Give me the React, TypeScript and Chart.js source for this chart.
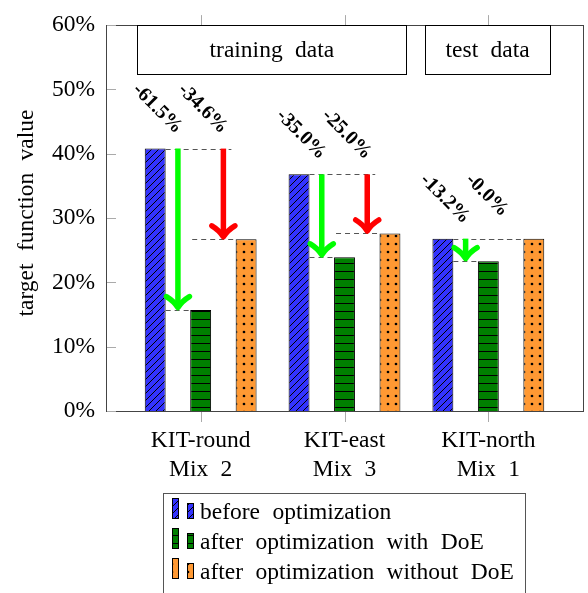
import React, { useEffect, useRef } from 'react';
import { Chart, registerables } from 'chart.js';

Chart.register(...registerables);

const FONT = "'Liberation Serif', 'Times New Roman', serif";

// ---- data ----
const categories = [
  ['KIT-round', 'Mix 2'],
  ['KIT-east', 'Mix 3'],
  ['KIT-north', 'Mix 1'],
];
const seriesNames = [
  'before optimization',
  'after optimization with DoE',
  'after optimization without DoE',
];
const beforeOpt = [40.8, 36.8, 26.8];
const afterDoE = [15.7, 23.9, 23.3];
const afterNoDoE = [26.7, 27.6, 26.8];
const doeChangeLabels = ['-61.5%', '-35.0%', '-13.2%'];
const noDoeChangeLabels = ['-34.6%', '-25.0%', '-0.0%'];
const yTickValues = [0, 10, 20, 30, 40, 50, 60];
const yAxisTitle = 'target function value';
const groupBoxes = [
  { text: 'training data', from: 0, to: 1 },
  { text: 'test data', from: 2, to: 2 },
];

function makePattern(kind: string, color: string): CanvasPattern | string {
  const c = document.createElement('canvas');
  const size = kind === 'hatch' ? 7 : 8;
  c.width = size;
  c.height = size;
  const g = c.getContext('2d');
  if (!g) return color;
  g.fillStyle = color;
  g.fillRect(0, 0, size, size);
  g.strokeStyle = '#000';
  g.fillStyle = '#000';
  if (kind === 'hatch') {
    g.lineWidth = 1;
    g.beginPath();
    g.moveTo(-1, size + 1);
    g.lineTo(size + 1, -1);
    g.moveTo(-2, 2);
    g.lineTo(2, -2);
    g.moveTo(size - 2, size + 2);
    g.lineTo(size + 2, size - 2);
    g.stroke();
  } else if (kind === 'hlines') {
    g.fillRect(0, size - 1, size, 1.2);
  } else if (kind === 'dots') {
    g.beginPath();
    g.arc(size / 2, size / 2, 1.35, 0, Math.PI * 2);
    g.fill();
  }
  const p = g.createPattern(c, 'repeat');
  return p || color;
}

function drawArrow(ctx: CanvasRenderingContext2D, x: number, y0: number, y1: number, color: string) {
  ctx.save();
  ctx.strokeStyle = color;
  ctx.lineWidth = 5.5;
  ctx.lineCap = 'butt';
  ctx.beginPath();
  ctx.moveTo(x, y0);
  ctx.lineTo(x, y1 - 3);
  ctx.stroke();
  ctx.lineCap = 'round';
  ctx.lineJoin = 'round';
  ctx.beginPath();
  ctx.moveTo(x - 11.5, y1 - 13.5);
  ctx.quadraticCurveTo(x - 4, y1 - 9, x, y1 - 2.5);
  ctx.quadraticCurveTo(x + 4, y1 - 9, x + 11.5, y1 - 13.5);
  ctx.stroke();
  ctx.restore();
}

function dashed(ctx: CanvasRenderingContext2D, x0: number, x1: number, y: number) {
  ctx.save();
  ctx.strokeStyle = '#555';
  ctx.lineWidth = 1;
  ctx.setLineDash([5, 4]);
  ctx.beginPath();
  const yy = Math.round(y) + 0.5;
  ctx.moveTo(x0, yy);
  ctx.lineTo(x1, yy);
  ctx.stroke();
  ctx.restore();
}

export default function App() {
  const ref = useRef<HTMLCanvasElement | null>(null);

  useEffect(() => {
    const canvas = ref.current;
    if (!canvas) return;
    const fills = [
      makePattern('hatch', '#3333ff'),
      makePattern('hlines', '#007f00'),
      makePattern('dots', '#ff9933'),
    ];
    const values = [beforeOpt, afterDoE, afterNoDoE];

    const overlay = {
      id: 'overlay',
      beforeDraw(chart: any) {
        (chart.ctx as any).wordSpacing = '6.5px';
      },
      afterDatasetsDraw(chart: any) {
        const ctx: CanvasRenderingContext2D = chart.ctx;
        const { left, top, right, bottom } = chart.chartArea;
        const xS = chart.scales.x;
        const yS = chart.scales.y;

        // y axis title
        ctx.save();
        ctx.fillStyle = '#000';
        ctx.font = `23.5px ${FONT}`;
        ctx.textAlign = 'center';
        ctx.textBaseline = 'middle';
        ctx.translate(27, (top + bottom) / 2 - 5);
        ctx.rotate(-Math.PI / 2);
        ctx.fillText(yAxisTitle, 0, 0);
        ctx.restore();

        // plot border
        ctx.save();
        ctx.strokeStyle = '#444';
        ctx.lineWidth = 1;
        ctx.strokeRect(Math.round(left) + 0.5, Math.round(top) + 0.5, Math.round(right - left), Math.round(bottom - top));
        // tick marks
        ctx.strokeStyle = '#aaa';
        ctx.beginPath();
        yTickValues.forEach((v) => {
          const y = Math.round(yS.getPixelForValue(v)) + 0.5;
          ctx.moveTo(left + 1, y);
          ctx.lineTo(left + 10, y);
        });
        categories.forEach((_, i) => {
          const x = Math.round(xS.getPixelForValue(i)) + 0.5;
          ctx.moveTo(x, bottom + 1);
          ctx.lineTo(x, bottom + 11);
          ctx.moveTo(x, top);
          ctx.lineTo(x, top - 10);
        });
        ctx.stroke();
        ctx.restore();

        // group boxes
        const unit = xS.getPixelForValue(1) - xS.getPixelForValue(0);
        groupBoxes.forEach((b) => {
          const x0 = xS.getPixelForValue(b.from) - unit * 0.44;
          const x1 = xS.getPixelForValue(b.to) + unit * 0.43;
          const y0 = top;
          const y1 = top + 49;
          ctx.save();
          ctx.fillStyle = '#fff';
          ctx.fillRect(x0, y0, x1 - x0, y1 - y0);
          ctx.strokeStyle = '#000';
          ctx.lineWidth = 1;
          ctx.strokeRect(Math.round(x0) + 0.5, Math.round(y0) + 0.5, Math.round(x1 - x0), Math.round(y1 - y0));
          ctx.fillStyle = '#000';
          ctx.font = `23.5px ${FONT}`;
          ctx.textAlign = 'center';
          ctx.textBaseline = 'middle';
          ctx.fillText(b.text, (x0 + x1) / 2, (y0 + y1) / 2 + 1);
          ctx.restore();
        });

        // dashed guides, arrows and labels
        const mB = chart.getDatasetMeta(0).data;
        const mG = chart.getDatasetMeta(1).data;
        const mO = chart.getDatasetMeta(2).data;
        categories.forEach((_, i) => {
          const b = mB[i], g = mG[i], o = mO[i];
          const bRight = b.x + b.width / 2;
          const gLeft = g.x - g.width / 2;
          const gRight = g.x + g.width / 2;
          const oLeft = o.x - o.width / 2;
          const xGreen = (bRight + gLeft) / 2;
          const xRed = (gRight + oLeft) / 2;
          const yTop = yS.getPixelForValue(beforeOpt[i]);
          const yG = yS.getPixelForValue(afterDoE[i]);
          const yO = yS.getPixelForValue(afterNoDoE[i]);

          dashed(ctx, bRight, xRed + 8, yTop);
          dashed(ctx, gLeft + 2, oLeft, yO);
          dashed(ctx, bRight, gLeft, yG);

          if (yG - yTop > 1) drawArrow(ctx, xGreen, yTop, yG, '#00ff00');
          if (yO - yTop > 1) drawArrow(ctx, xRed, yTop, yO, '#ff0000');

          ctx.save();
          ctx.fillStyle = '#000';
          ctx.font = `bold 20px ${FONT}`;
          ctx.textAlign = 'left';
          ctx.textBaseline = 'alphabetic';
          [[xGreen, doeChangeLabels[i]], [xRed, noDoeChangeLabels[i]]].forEach(([ax, txt]) => {
            ctx.save();
            ctx.translate((ax as number) - 46, yTop - 58);
            ctx.rotate(Math.PI / 4);
            ctx.fillText(txt as string, 0, 0);
            ctx.restore();
          });
          ctx.restore();
        });
      },
      afterDraw(chart: any) {
        const ctx: CanvasRenderingContext2D = chart.ctx;
        // legend
        ctx.save();
        ctx.strokeStyle = '#555';
        ctx.lineWidth = 1;
        ctx.strokeRect(163.5, 493.5, 362, 120);
        ctx.font = `23.5px ${FONT}`;
        ctx.fillStyle = '#000';
        ctx.textAlign = 'left';
        ctx.textBaseline = 'alphabetic';
        seriesNames.forEach((name, i) => {
          const base = 518 + i * 30;
          ctx.fillStyle = fills[i] as any;
          ctx.fillRect(172, base - 20, 6, 20);
          ctx.fillRect(187, base - 15, 6, 15);
          ctx.strokeStyle = '#000';
          ctx.strokeRect(172.5, base - 19.5, 6, 20);
          ctx.strokeRect(187.5, base - 14.5, 6, 15);
          ctx.fillStyle = '#000';
          ctx.fillText(name, 200, base + 1);
        });
        ctx.restore();
      },
    };

    const chart = new Chart(canvas, {
      type: 'bar',
      data: {
        datasets: seriesNames.map((name, k) => ({
          label: name,
          data: values[k].map((v, i) => ({ x: i, y: v })),
          backgroundColor: fills[k] as any,
          borderColor: '#000',
          borderWidth: 1,
          borderSkipped: 'start',
        })),
      },
      options: {
        responsive: false,
        animation: false,
        events: [],
        categoryPercentage: 0.948,
        barPercentage: 0.46,
        layout: { padding: { top: 16, right: 5, left: 0, bottom: 0 } },
        plugins: { legend: { display: false }, tooltip: { enabled: false } },
        scales: {
          x: {
            type: 'linear',
            offset: false,
            bounds: 'data',
            min: -0.658,
            max: 2.658,
            grid: { display: false, drawTicks: false, offset: false },
            border: { display: false },
            afterBuildTicks: (s: any) => {
              s.ticks = categories.map((_, i) => ({ value: i }));
            },
            afterFit: (s: any) => {
              s.height = 182;
            },
            ticks: {
              autoSkip: false,
              maxRotation: 0,
              minRotation: 0,
              padding: 15.5,
              color: '#000',
              font: { family: FONT, size: 23.5, lineHeight: 1.23 },
              callback: (v: any) => categories[Math.round(Number(v))] as any,
            },
          },
          y: {
            min: 0,
            max: 60,
            grid: { display: false, drawTicks: false },
            border: { display: false },
            afterBuildTicks: (s: any) => {
              s.ticks = yTickValues.map((v) => ({ value: v }));
            },
            afterFit: (s: any) => {
              s.width = 106;
            },
            ticks: {
              padding: 11,
              color: '#000',
              font: { family: FONT, size: 23.5 },
              callback: (v: any) => `${v}%`,
            },
            title: { display: false },
          },
        },
      },
      plugins: [overlay],
    } as any);

    return () => chart.destroy();
  }, []);

  return (
    <div style={{ position: 'fixed', left: 0, top: 0, width: 588, height: 593, background: '#fff' }}>
      <canvas ref={ref} width={588} height={593} style={{ display: 'block' }} />
    </div>
  );
}
